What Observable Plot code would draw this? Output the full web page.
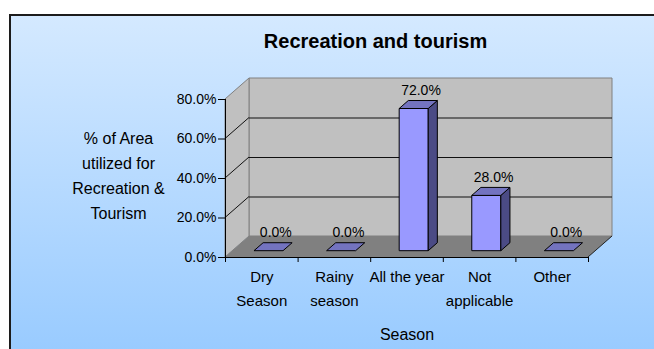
<!DOCTYPE html>
<html><head><meta charset="utf-8">
<script src="https://cdn.jsdelivr.net/npm/d3@7"></script>
<script src="https://cdn.jsdelivr.net/npm/@observablehq/plot@0.6"></script>
<style>
body{margin:0;background:#fff;}
#wrap{position:relative;width:654px;height:349px;overflow:hidden;}
#bg{position:absolute;left:9px;top:14px;width:660px;height:335px;border-left:2px solid #1c1c1c;border-top:2px solid #1c1c1c;background:linear-gradient(to bottom,#D4E9FF,#99CBFF);}
#chart{position:absolute;left:0;top:0;}
</style></head><body>
<div id="wrap"><div id="bg"></div><div id="chart"></div></div>
<script>
// ---- data ----
const categories = ["Dry\nSeason", "Rainy\nseason", "All the year", "Not\napplicable", "Other"];
const values = [0, 0, 72, 28, 0];
const yTicks = [0, 20, 40, 60, 80];
const gridTicks = [20, 40, 60];
const title = "Recreation and tourism";
const yTitle = "% of Area\nutilized for\nRecreation &\nTourism";
const xTitle = "Season";

// ---- style ----
const DX = 24, DY = -21;      // 3D depth projection (px)
const F0 = 0.3, F1 = 0.68;    // bar depth range (fraction of depth)
const BAR_HALF = 0.2;         // half bar width in band units
const C = {wall: "#C0C0C0", wallEdge: "#808080", floor: "#808080",
           front: "#9999FF", top: "#7373BF", side: "#4B4B85"};

const data = categories.map((c, i) => ({c, i, v: values[i]}));
const xDomain = [0, categories.length];
const yDomain = [yTicks[0], yTicks[yTicks.length - 1]];

const pts = a => a.map(p => p.join(",")).join(" ");

function wallRender(index, scales, V) {
  const g = d3.create("svg:g");
  for (const i of index) {
    const x1 = V.x1[i], x2 = V.x2[i], yb = V.y1[i], yt = V.y2[i];
    g.append("polygon").attr("points", pts([[x1+DX, yt+DY],[x2+DX, yt+DY],[x2+DX, yb+DY],[x1+DX, yb+DY]]))
      .attr("fill", C.wall).attr("stroke", C.wallEdge);
    g.append("polygon").attr("points", pts([[x1, yb],[x1, yt],[x1+DX, yt+DY],[x1+DX, yb+DY]]))
      .attr("fill", C.wall).attr("stroke", C.wallEdge);
    g.append("polygon").attr("points", pts([[x1, yb],[x2, yb],[x2+DX, yb+DY],[x1+DX, yb+DY]]))
      .attr("fill", C.floor).attr("stroke", "none");
    g.append("line").attr("x1", x2).attr("y1", yb).attr("x2", x2+DX).attr("y2", yb+DY).attr("stroke", "#222");
    for (const t of gridTicks) {
      const y = scales.y(t);
      g.append("line").attr("x1", x1).attr("y1", y).attr("x2", x1+DX).attr("y2", y+DY).attr("stroke", "#111");
    }
  }
  return g.node();
}

function barRender(index, scales, V) {
  const g = d3.create("svg:g");
  const p = (x, y, f) => [x + f*DX, y + f*DY];
  for (const i of index) {
    const xl = V.x1[i], xr = V.x2[i], yb = V.y1[i], yt = V.y2[i];
    const flat = Math.abs(yb - yt) < 0.5;
    if (!flat) {
      g.append("polygon").attr("points", pts([p(xl,yb,F0), p(xr,yb,F0), p(xr,yt,F0), p(xl,yt,F0)]))
        .attr("fill", C.front).attr("stroke", "#000");
      g.append("polygon").attr("points", pts([p(xr,yb,F0), p(xr,yb,F1), p(xr,yt,F1), p(xr,yt,F0)]))
        .attr("fill", C.side).attr("stroke", "#000");
    }
    g.append("polygon").attr("points", pts([p(xl,yt,F0), p(xr,yt,F0), p(xr,yt,F1), p(xl,yt,F1)]))
      .attr("fill", C.top).attr("stroke", "#000");
  }
  return g.node();
}

const chart = Plot.plot({
  width: 654, height: 349,
  marginLeft: 225, marginRight: 66, marginTop: 99, marginBottom: 92,
  style: {background: "transparent", fontFamily: "'Liberation Sans', Arial, sans-serif", fontSize: "14px", color: "#000", overflow: "visible"},
  x: {type: "linear", domain: xDomain},
  y: {type: "linear", domain: yDomain},
  marks: [
    Plot.rect([{}], {x1: () => xDomain[0], x2: () => xDomain[1], y1: () => yDomain[0], y2: () => yDomain[1], render: wallRender}),
    Plot.ruleY(gridTicks, {x1: xDomain[0], x2: xDomain[1], dx: DX, dy: DY, stroke: "#111"}),
    Plot.ruleX([xDomain[0]], {y1: yDomain[0], y2: yDomain[1], stroke: "#000"}),
    Plot.ruleY([yDomain[0]], {x1: xDomain[0], x2: xDomain[1], stroke: "#000"}),
    Plot.axisY(yTicks, {tickFormat: d => d.toFixed(1) + "%", tickSize: 7, tickPadding: 2, fontSize: 14, label: null, stroke: "#000", fill: "#000"}),
    Plot.axisX(d3.range(xDomain[0], xDomain[1] + 1), {tickFormat: () => "", tickSize: 5, label: null, stroke: "#000"}),
    Plot.rect(data, {x1: d => d.i + 0.5 - BAR_HALF, x2: d => d.i + 0.5 + BAR_HALF, y1: () => 0, y2: "v", render: barRender}),
    Plot.text(data, {x: d => d.i + 0.5, y: "v", text: d => d.v.toFixed(1) + "%", dx: 14, dy: -25, fontSize: 14, fill: "#000"}),
    Plot.text(data, {x: d => d.i + 0.5, y: () => 0, text: "c", lineAnchor: "top", lineHeight: 1.6, dy: 7, fontSize: 15, fill: "#000"}),
    Plot.text([yTitle], {frameAnchor: "left", text: d => d, dx: -107, dy: -5, textAnchor: "middle", lineAnchor: "middle", lineHeight: 1.5625, fontSize: 16, fill: "#000"}),
    Plot.text([xTitle], {frameAnchor: "bottom", text: d => d, dy: 77, lineAnchor: "middle", fontSize: 16, fill: "#000"}),
    Plot.text([title], {frameAnchor: "top", text: d => d, dx: -31.5, dy: -58.2, lineAnchor: "middle", fontSize: 20, fontWeight: "bold", fill: "#000"})
  ]
});
document.getElementById("chart").appendChild(chart);
</script>
</body></html>
